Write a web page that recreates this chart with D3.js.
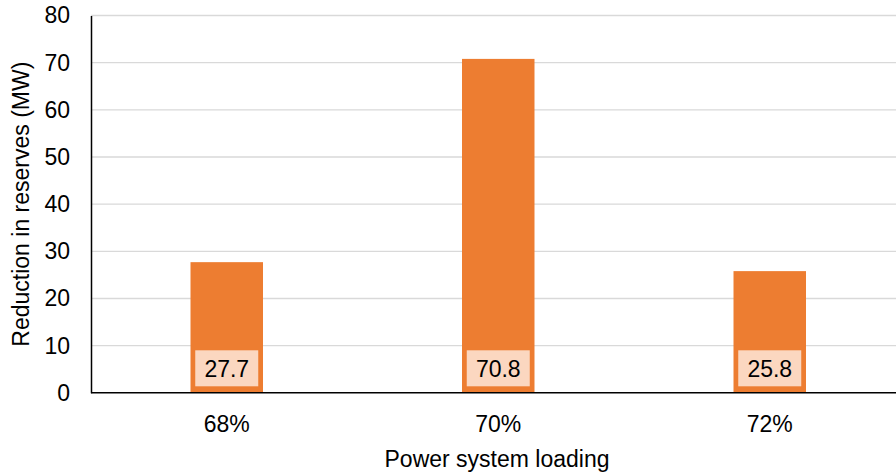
<!DOCTYPE html>
<html>
<head>
<meta charset="utf-8">
<script src="https://cdn.jsdelivr.net/npm/d3@7"></script>
<style>
  html, body { margin: 0; padding: 0; background: #fff; }
  svg { display: block; font-family: "Liberation Sans", Arial, sans-serif; }
</style>
</head>
<body>
<svg id="chart" width="896" height="474"></svg>
<script>
// Reserve reduction per loading level
const categories = ["68%", "70%", "72%"];
const values = [27.7, 70.8, 25.8];
const yTicks = [0, 10, 20, 30, 40, 50, 60, 70, 80];

const FONT = "Liberation Sans, Arial, sans-serif";
const FS = 23;

const svg = d3.select("#chart");
const margin = { left: 91, top: 15.5, bottom: 392.8 };
const plotRight = 905.5;

const x = d3.scaleBand()
  .domain(categories)
  .range([margin.left, plotRight])
  .paddingInner(0.733)
  .paddingOuter(0.3665);

const y = d3.scaleLinear()
  .domain([0, 80])
  .range([margin.bottom, margin.top]);

// horizontal gridlines
svg.append("g")
  .selectAll("line")
  .data(yTicks.filter(d => d > 0))
  .join("line")
  .attr("x1", margin.left)
  .attr("x2", 896)
  .attr("y1", d => y(d))
  .attr("y2", d => y(d))
  .attr("stroke", "#d9d9d9")
  .attr("stroke-width", 1.3);

// bars
svg.append("g")
  .selectAll("rect")
  .data(values)
  .join("rect")
  .attr("x", (d, i) => x(categories[i]))
  .attr("width", x.bandwidth())
  .attr("y", d => y(d))
  .attr("height", d => y(0) - y(d))
  .attr("fill", "#ED7D31");

// value labels in boxes near the base of each bar
const lab = svg.append("g")
  .selectAll("g")
  .data(values)
  .join("g")
  .attr("transform", (d, i) => `translate(${x(categories[i]) + x.bandwidth() / 2},${y(0) - 24.5})`);
lab.append("rect")
  .attr("x", -31.5)
  .attr("y", -18)
  .attr("width", 63)
  .attr("height", 36)
  .attr("fill", "#FBD7C0");
lab.append("text")
  .attr("text-anchor", "middle")
  .attr("dy", "0.36em")
  .attr("font-size", FS)
  .attr("font-family", FONT)
  .attr("fill", "#000")
  .text(d => d.toFixed(1));

// y axis
const yAxis = svg.append("g")
  .attr("transform", `translate(${margin.left},0)`)
  .call(d3.axisLeft(y).tickValues(yTicks).tickSize(0).tickPadding(21));
yAxis.select(".domain").attr("stroke", "#000").attr("stroke-width", 1.5);
yAxis.selectAll("text").attr("font-size", FS).attr("fill", "#000")
  .attr("font-family", FONT);

// x axis
const xAxis = svg.append("g")
  .attr("transform", `translate(0,${margin.bottom})`)
  .call(d3.axisBottom(x).tickSize(0).tickPadding(23));
xAxis.select(".domain").remove();
xAxis.selectAll("text").attr("font-size", FS).attr("fill", "#000")
  .attr("font-family", FONT);
svg.append("line")
  .attr("x1", margin.left).attr("x2", 896)
  .attr("y1", margin.bottom).attr("y2", margin.bottom)
  .attr("stroke", "#000").attr("stroke-width", 1.5);

// axis titles
svg.append("text")
  .attr("x", 497)
  .attr("y", 467)
  .attr("text-anchor", "middle")
  .attr("font-size", FS)
  .attr("font-family", FONT)
  .text("Power system loading");

svg.append("text")
  .attr("transform", `translate(29,${(margin.top + margin.bottom) / 2}) rotate(-90)`)
  .attr("text-anchor", "middle")
  .attr("font-size", FS)
  .attr("font-family", FONT)
  .text("Reduction in reserves (MW)");
</script>
</body>
</html>
